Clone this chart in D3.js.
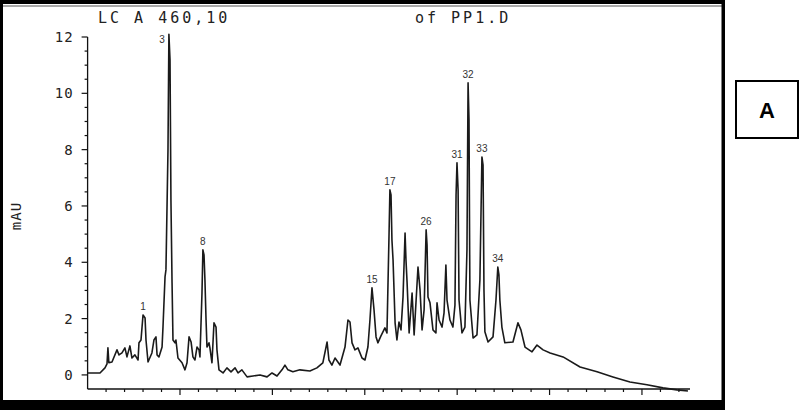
<!DOCTYPE html>
<html><head><meta charset="utf-8">
<script src="https://cdn.jsdelivr.net/npm/d3@7"></script>
<style>html,body{margin:0;padding:0;background:#fff;}svg{display:block;}</style>
</head><body>
<script>
// Chromatogram trace: retention time (min) and absorbance (mAU)
const times = [0,0.67,0.94,1.05,1.10,1.15,1.32,1.59,1.70,1.86,2.02,2.13,2.29,2.40,2.56,2.73,2.78,2.89,3.00,3.11,3.16,3.27,3.48,3.59,3.70,3.76,3.86,4.03,4.08,4.19,4.24,4.35,4.40,4.46,4.51,4.57,4.62,4.73,4.78,4.89,5.11,5.27,5.38,5.49,5.60,5.70,5.81,5.92,6.03,6.08,6.19,6.24,6.30,6.35,6.41,6.46,6.57,6.62,6.73,6.84,6.95,7.00,7.11,7.33,7.54,7.76,7.98,8.14,8.35,8.63,8.95,9.33,9.71,9.98,10.25,10.52,10.68,10.84,11.11,11.49,12.03,12.41,12.73,12.96,13.06,13.22,13.39,13.66,13.93,14.09,14.20,14.31,14.47,14.63,14.85,15.01,15.17,15.28,15.39,15.50,15.61,15.71,15.87,16.09,16.20,16.31,16.36,16.42,16.47,16.53,16.64,16.74,16.85,16.96,17.07,17.18,17.23,17.29,17.40,17.56,17.67,17.77,17.88,17.99,18.10,18.21,18.32,18.37,18.42,18.53,18.69,18.85,18.91,19.02,19.18,19.29,19.39,19.45,19.61,19.77,19.88,19.94,19.99,20.05,20.10,20.26,20.42,20.53,20.59,20.64,20.69,20.86,21.07,21.23,21.34,21.40,21.45,21.50,21.67,21.94,22.10,22.20,22.26,22.31,22.42,22.58,23.02,23.29,23.45,23.67,24.05,24.32,24.65,25.03,25.73,26.65,27.57,28.43,29.35,30.27,31.14,31.89,32.49];
const absorbance = [0.07,0.07,0.25,0.39,0.96,0.43,0.46,0.89,0.71,0.78,0.96,0.64,1.03,0.60,0.71,0.53,1.14,1.24,2.13,2.02,1.24,0.46,0.78,1.24,1.35,0.71,0.64,0.99,1.70,3.48,3.73,7.99,12.14,11.18,6.21,3.27,1.24,1.14,1.24,0.60,0.43,0.18,0.43,1.35,1.17,0.64,0.53,0.99,0.89,0.64,2.91,4.44,4.26,3.37,1.95,0.99,1.14,0.96,0.43,1.85,1.70,0.89,0.18,0.07,0.25,0.11,0.25,0.07,0.18,-0.07,-0.04,0.00,-0.07,0.07,-0.04,0.18,0.35,0.18,0.11,0.18,0.14,0.25,0.43,1.17,0.53,0.35,0.60,0.35,0.99,1.95,1.88,1.14,0.89,0.96,0.60,0.53,0.99,1.95,3.09,2.31,1.35,1.14,1.38,1.67,1.49,4.90,6.57,6.39,4.79,4.08,1.85,1.24,1.88,1.60,2.77,5.04,4.08,3.27,1.49,2.91,1.42,2.56,3.83,3.02,1.60,2.31,5.15,4.61,2.77,2.56,1.60,1.49,2.56,1.95,1.70,2.20,3.90,2.66,1.95,1.70,2.48,6.39,7.53,6.57,2.66,1.49,1.70,4.44,10.37,9.05,2.66,1.31,1.42,3.37,7.74,7.45,3.02,1.53,1.17,1.35,2.66,3.83,3.55,2.66,1.70,1.14,1.17,1.85,1.60,0.99,0.82,1.06,0.89,0.78,0.64,0.28,0.11,-0.07,-0.25,-0.35,-0.46,-0.53,-0.57];
// Labelled peaks
const peakNames = ["1","3","8","15","17","26","31","32","33","34"];
const peakTimes = [3.00,4.40,6.24,15.39,16.36,18.32,19.99,20.59,21.34,22.20];
// Axis ticks
const yTickLabels = [0,2,4,6,8,10,12];
const titleLeft = "LC A 460,10";
const titleRight = "of PP1.D";
const yAxisTitle = "mAU";
const panelLetter = "A";

const W = 800, H = 410;
const svg = d3.select("body").append("svg").attr("width", W).attr("height", H);

// scan frame
svg.append("rect").attr("x",0).attr("y",0).attr("width",725).attr("height",4).attr("fill","#000");
svg.append("line").attr("x1",3).attr("x2",722).attr("y1",6).attr("y2",6).attr("stroke","#555").attr("stroke-width",1);
svg.append("rect").attr("x",0).attr("y",0).attr("width",3).attr("height",410).attr("fill","#000");
svg.append("rect").attr("x",0).attr("y",400).attr("width",725).attr("height",10).attr("fill","#000");
svg.append("rect").attr("x",721.5).attr("y",0).attr("width",3.5).attr("height",410).attr("fill","#000");

const x = d3.scaleLinear().domain([0, 32.6]).range([87.6, 690]);
const y = d3.scaleLinear().domain([-0.5, 12]).range([389, 37]);

const mono = "'DejaVu Sans Mono', 'Liberation Mono', monospace";

// y axis
const yAxisG = svg.append("g").attr("transform","translate(87.6,0)");
yAxisG.append("line").attr("x1",0).attr("x2",0).attr("y1",y(12)).attr("y2",y(-0.5)).attr("stroke","#111").attr("stroke-width",1.3);
const yMinor = d3.range(0, 12.01, 0.5);
yAxisG.selectAll("line.tk").data(yMinor).enter().append("line")
  .attr("x1", d => (d % 2 === 0) ? -6 : -3).attr("x2",0)
  .attr("y1", d => y(d)).attr("y2", d => y(d)).attr("stroke","#111").attr("stroke-width",1.2);
yAxisG.selectAll("text").data(yTickLabels).enter().append("text")
  .attr("x",-14).attr("y", d => y(d)+5).attr("text-anchor","end")
  .attr("font-family",mono).attr("font-size",14).attr("letter-spacing",1).attr("fill","#222")
  .text(d => d);

// x axis
const xAxisG = svg.append("g").attr("transform","translate(0,389)");
xAxisG.append("line").attr("x1",x(0)).attr("x2",x(32.6)).attr("y1",0).attr("y2",0).attr("stroke","#111").attr("stroke-width",1.3);
xAxisG.selectAll("line.tk").data(d3.range(1, 33, 1)).enter().append("line")
  .attr("x1", d => x(d)).attr("x2", d => x(d)).attr("y1",0).attr("y2", d => d % 5 === 0 ? 6 : 3)
  .attr("stroke","#111").attr("stroke-width",1.2);

// trace
const pts = times.map((t,i) => [t, absorbance[i]]);
svg.append("path").datum(pts)
  .attr("d", d3.line().x(d => x(d[0])).y(d => y(Math.min(d[1], 12.1))))
  .attr("fill","none").attr("stroke","#1a1a1a").attr("stroke-width",1.6).attr("stroke-linejoin","round");

// peak labels
peakNames.forEach((n,i) => {
  const t = peakTimes[i];
  const idx = times.indexOf(t);
  const v = Math.min(absorbance[idx], 12);
  const isTop = v >= 12;
  svg.append("text")
    .attr("x", isTop ? x(t) - 4 : x(t))
    .attr("y", isTop ? y(v) + 6 : y(v) - 5)
    .attr("text-anchor", isTop ? "end" : "middle")
    .attr("font-family","Arial, 'Liberation Sans', sans-serif").attr("font-size",10).attr("fill","#333")
    .text(n);
});

// titles
svg.append("text").attr("x",98).attr("y",23).attr("font-family",mono).attr("font-size",15).attr("letter-spacing",3).attr("fill","#222").text(titleLeft);
svg.append("text").attr("x",415).attr("y",23).attr("font-family",mono).attr("font-size",15).attr("letter-spacing",3).attr("fill","#222").text(titleRight);
svg.append("text").attr("transform","translate(21,216) rotate(-90)").attr("text-anchor","middle")
  .attr("font-family",mono).attr("font-size",14).attr("letter-spacing",1).attr("fill","#222").text(yAxisTitle);

// panel letter box
svg.append("rect").attr("x",736).attr("y",81).attr("width",62).attr("height",57).attr("fill","#fff").attr("stroke","#000").attr("stroke-width",2);
svg.append("text").attr("x",767).attr("y",118).attr("text-anchor","middle")
  .attr("font-family","Arial, 'Liberation Sans', sans-serif").attr("font-weight","bold").attr("font-size",22).attr("fill","#000").text(panelLetter);
</script>
</body></html>
